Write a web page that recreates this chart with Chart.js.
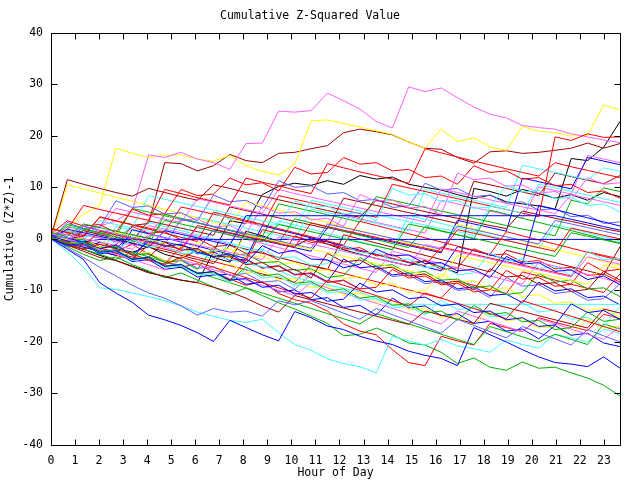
<!DOCTYPE html>
<html><head><meta charset="utf-8">
<script src="https://cdn.jsdelivr.net/npm/chart.js@4"></script>
<style>html,body{margin:0;padding:0;background:#fff}canvas{display:block}</style>
</head><body>
<canvas id="c" width="640" height="480"></canvas>
<script>
const hours = [0,0.68,1.35,2.03,2.7,3.38,4.06,4.73,5.41,6.09,6.76,7.44,8.11,8.79,9.47,10.14,10.82,11.5,12.17,12.85,13.53,14.2,14.88,15.56,16.23,16.91,17.59,18.26,18.94,19.61,20.29,20.97,21.64,22.32,22.99,23.67];
const xTickLabels = [0,1,2,3,4,5,6,7,8,9,10,11,12,13,14,15,16,17,18,19,20,21,22,23];
const yTickLabels = [-40,-30,-20,-10,0,10,20,30,40];

const walkA = [0,1.5,0.8,2.5,3.5,5.5,16.3,15.8,16.8,15.5,14.8,13.5,18.5,18.6,24.8,24.6,24.9,28.3,26.8,25.2,22.8,21.5,29.5,28.6,29.3,27.4,25.6,24.2,23.5,22,21.6,21.3,20.4,19.8,19.2,18.7];
const walkB = [0.5,2.2,4.8,6.5,17.6,16.6,15.8,16.2,16.3,15.5,15.1,16.2,14.2,13.1,12.4,14.5,22.9,23.1,22.4,21.7,21,20.3,18.8,17.6,21.3,18.9,19.6,17.8,17.2,21.8,20.9,20.6,20,20.1,26,25];
const walkB2 = [0,10.5,9.7,8.9,8.1,7.3,6.5,5.7,4.9,4.1,3.3,2.5,7.2,6.4,5.6,4.8,4,3.2,2.4,1.6,0.8,0,-0.8,-1.6,-2.4,2.8,2,1.2,0.4,-0.4,-1.2,-2,-2.8,-3.6,-4.4,-5.2];
const walkC = [0,-0.5,0.8,0.2,-0.5,2.6,3,14.8,14.6,13.2,14.2,16.4,15.2,14.8,16.6,16.8,17.5,18.1,20.6,21.3,20.8,20.2,18.8,17.6,17.4,15.8,14.7,16.9,17.1,16.6,16.8,17.2,17.6,18.6,17.6,18.5];
const walkD = [0,-2,-4,-8.5,-10.5,-12.3,-14.8,-15.7,-16.8,-18.2,-19.9,-15.8,-17.2,-18.6,-19.8,-14.1,-15.3,-16.9,-17.6,-18.9,-19.8,-20.5,-21.8,-22.6,-23.2,-24.6,-17.2,-18.6,-20,-21.5,-22.9,-24,-24.3,-24.8,-22.9,-25.1];
const walkE = [0,-2.5,-5.5,-9.5,-9.8,-10.5,-11.2,-12,-13,-14.2,-15,-15.8,-16.2,-15.6,-18.2,-20.5,-21.6,-23.3,-24.2,-24.8,-26,-18.9,-19.8,-20.6,-19.5,-20.8,-21.3,-22,-19.6,-20.5,-21.2,-18.5,-19.2,-20,-17.5,-18.3];
const walkF = [0,1,-0.5,-1.8,-2.5,-1,-3,-4.2,-5.5,-4.8,-6.5,-7.8,-9,-8.3,-10.6,-11.8,-12.5,-14,-16.5,-17.9,-18.6,-21.5,-24,-24.6,-18.9,-19.8,-20.6,-16.4,-17.2,-18,-15.3,-16.2,-17,-17.8,-14.6,-15.5];
const walkG = [0,-1.5,-3,-4.2,-3.5,-5,-6.2,-7.5,-6.6,-8,-9.3,-10.8,-9.5,-11,-12.4,-13.6,-15,-16.4,-18.8,-18.5,-17.3,-18.6,-20.2,-20.6,-22,-24.2,-23.1,-24.9,-25.5,-23.9,-25.1,-24.9,-26,-27,-28.4,-30.5];
const walkH = [0,-1.2,-2,-0.6,-1.8,-2.6,-1.5,-3,-3.8,-2.2,-3.6,-4.5,1.5,0.6,-0.5,-1.4,0.2,-1,-2.1,-3,-3.8,-4.5,-5.2,-4.2,-5.5,-6.6,9.8,9.2,8.3,9.6,8.8,7.9,8.6,7.5,9,8.2];
const walkI = [0,-1,-2,-3.2,-4.2,-5.3,-6.4,-7.4,-8,-8.5,-2.5,3.5,3,8.6,10.2,10.8,10.4,11.3,10.6,12.3,11.6,12,10.6,10,9.5,8.6,7.8,8.5,7.2,6.8,6.4,5.8,15.6,15.2,17.8,22.8];
const walkU1 = [1,3.5,2.5,2.8,1.2,5.8,4.6,4.9,9.6,8.4,8.7,11.8,10.5,10.9,9.3,13.9,12.6,12.9,15.8,14.5,14.8,13.2,13.5,11.9,12.2,10.6,14.2,12.9,13.2,11.6,11.9,10.3,10.6,9.0,9.3,7.9];
const walkU2 = [0.5,11.5,10.6,9.8,9,8.3,9.8,9,8.2,7.5,10.5,9.8,9,8.3,7.6,6.9,6.2,5.5,4.8,4.2,7.5,6.8,6,5.3,4.6,4,3.3,2.6,2,5.4,4.7,4,3.4,2.7,2,1.4];
const walkU3 = [0,1.8,6.5,5.7,5,4.3,3.6,9.6,8.8,8,7.3,6.6,11.8,11,10.3,9.5,8.8,14.6,13.8,13,12.3,11.6,10.8,17.5,16.7,15.9,15.1,14.4,13.6,12.9,12.2,14.8,14,13.3,12.6,11.9];
const walkU4 = [0.5,-0.3,2.8,2.1,5.9,5.2,4.5,3.8,3.2,7.8,7.1,6.4,5.7,5,9.6,8.8,8.1,7.4,6.7,6,5.3,4.7,4,3.3,9.7,9,8.3,7.6,6.9,6.2,5.6,4.9,8.6,7.9,7.2,6.5];
const walkU5 = [1,0.3,-0.4,3.5,2.8,2.1,8.4,7.7,7,6.3,5.6,4.9,4.2,3.5,2.9,2.2,7.5,6.8,6.1,5.4,4.7,4,3.3,2.7,2,1.4,0.7,6.4,5.7,5,10.6,9.9,9.2,8.5,7.8,7.1];
const walkU6 = [0,3.2,2.0,2.3,7.4,6.1,6.4,4.8,5.1,3.5,8.5,7.2,7.5,5.9,11.3,10.0,10.3,8.7,9.0,7.4,7.7,6.1,6.4,10.8,9.5,9.8,8.2,8.5,6.9,7.2,5.6,5.9,4.3,4.6,3.0,3.3];
const walkU7 = [0,-0.7,1.9,1.2,0.5,5.9,5.2,4.5,3.8,3.1,2.4,1.7,1,0.4,6.8,6.1,5.4,4.7,4,3.3,8.2,7.5,6.8,6.1,5.4,4.7,4,3.3,2.6,1.9,1.3,0.6,7.5,6.8,9.9,9.2];
const walkU8 = [2,1.3,0.6,4.2,3.5,2.8,2.1,1.4,6.2,5.5,4.8,4.1,3.4,2.7,8.4,7.7,7,6.3,5.6,4.9,4.2,10.6,9.9,9.2,8.5,7.8,7.1,6.4,5.7,5,4.3,19.8,19.1,20.4,19.7,19.8];
const walkU9 = [0.5,-0.2,-0.9,-1.6,2.4,1.7,1,0.3,-0.4,4.2,3.5,2.8,2.1,1.4,0.7,0,5.8,5.1,4.4,3.7,3,2.3,1.6,9.6,8.9,8.2,7.5,6.8,6.1,14.3,13.6,12.9,12.2,11.5,13.8,13.1];
const walkU10 = [1,0.3,-0.4,-1.1,-1.8,0.8,0.1,-0.6,-1.3,-2,1.8,1.1,0.4,-0.3,-1,-1.7,-2.4,2.2,1.5,0.8,0.1,-0.6,-1.3,-2,-2.7,3.6,2.9,2.2,1.5,11.8,11.1,10.4,9.7,15.8,15.1,14.4];
const walkU11 = [0,2.4,1.7,1,0.3,-0.4,3.5,2.8,2.1,1.4,0.7,6.2,5.5,4.8,4.1,3.4,2.7,2,7.9,7.2,6.5,5.8,5.1,4.4,3.7,3,11.2,10.5,9.8,9.1,8.4,12.8,12.1,11.4,10.7,12.3];
const walkU12 = [-0.5,1.6,0.9,0.2,-0.5,-1.2,2.6,1.9,1.2,0.5,-0.2,-0.9,3.2,2.5,1.8,1.1,0.4,-0.3,4.6,3.9,3.2,2.5,1.8,1.1,7.5,6.8,6.1,5.4,4.7,4,10.1,9.4,8.7,16.2,15.5,14.8];
const walkX1 = [0,1.6,0.4,0.7,-0.9,2.8,1.5,1.8,0.2,0.5,5.1,3.8,4.1,2.5,2.8,7.4,6.1,6.4,4.8,5.1,3.5,9.8,8.5,8.8,7.2,7.5,5.9,6.2,10.4,9.1,9.4,7.8,8.1,6.5,6.8,5.2];
const walkX2 = [0,-1.1,2.6,1.4,1.7,0.1,0.4,4.9,3.6,3.9,2.3,2.6,1.0,6.3,5.0,5.3,3.7,4.0,2.4,8.6,7.3,7.6,6.0,6.3,4.7,12.8,11.5,11.8,10.2,10.5,8.9,9.2,7.6,11.9,10.6,10.9];
const walkX3 = [1,-0.2,0.1,-1.5,-1.2,2.4,1.1,1.4,-0.2,0.1,-1.5,-1.2,-2.8,-2.5,-4.1,0.6,-0.7,-0.4,-2.0,-1.7,-3.3,-3.0,-4.6,-4.3,-5.9,-5.6,-1.9,-3.2,-2.9,-4.5,-4.2,-5.8,-5.5,-7.1,-6.8,-8.4];
const walkM1 = [0,-0.7,-1.4,1.5,0.8,0.1,-0.6,-1.3,-2,2.6,1.9,1.2,0.5,-0.2,-0.9,-1.6,3.1,2.4,1.7,1,0.3,-0.4,-1.1,-1.8,-2.5,1.8,1.1,0.4,-0.3,-1,-1.7,-2.4,2.1,1.4,0.7,0];
const walkM2 = [0.5,-0.4,-0.6,-1.9,-1.2,-3.1,-0.5,-1.4,-1.0,-2.6,-3.4,-2.9,-4.7,-1.3,-2.8,-2.2,-3.9,-4.1,-5.6,-4.9,-2.0,-3.3,-3.1,-4.8,-4.6,-6.2,-5.9,-7.5,-3.4,-4.9,-4.6,-6.3,-6.0,-7.9,-7.2,-8.9];
const walkM3 = [1.2,0.5,2.9,2.2,1.5,0.8,0.1,3.6,2.9,2.2,1.5,0.8,0.1,-0.6,2.8,2.1,1.4,0.7,0,-0.7,-1.4,-2.1,2.9,2.2,1.5,0.8,0.1,-0.6,-1.3,-2,-2.7,-3.4,1.2,0.5,-0.2,-0.9];
const walkM4 = [0,-1.1,-0.9,-2.5,-2.2,-0.1,-1.6,-1.3,-2.9,-2.6,-4.1,-0.8,-2.3,-2.0,-3.7,-3.5,-5.1,-4.8,-1.2,-2.8,-2.5,-4.2,-3.9,-5.6,-5.2,-7.0,-6.6,-2.7,-4.3,-3.9,-5.7,-5.4,-7.1,-2.4,-4.0,-3.8];
const walkM5 = [1.5,0.8,0.1,-0.6,-1.3,-2,0.9,0.2,-0.5,-1.2,-1.9,-2.6,-3.3,-4,0.4,-0.3,-1,-1.7,-2.4,-3.1,-3.8,-4.5,-5.2,-1.1,-1.8,-2.5,-3.2,-3.9,-4.6,-5.3,-6,-6.7,-7.4,-3.5,-4.2,-4.9];
const walkM6 = [0,-1.2,-0.8,-2.6,-2.3,-4.0,-3.6,-0.6,-2.2,-1.9,-3.5,-3.3,-5.0,-4.6,-6.3,-5.9,-7.6,-2.8,-4.5,-4.1,-5.8,-5.5,-7.2,-6.8,-8.6,-8.2,-9.9,-5.8,-7.4,-7.1,-8.8,-8.5,-10.2,-9.8,-6.3,-8.0];
const walkM7 = [0.5,-0.2,-0.9,-1.6,1.3,0.6,-0.1,-0.8,-1.5,-2.2,-2.9,-3.6,0.8,0.1,-0.6,-1.3,-2,-2.7,-3.4,-4.1,-4.8,-5.5,-6.2,-6.9,-7.6,-3.2,-3.9,-4.6,-5.3,-6,-6.7,-7.4,-8.1,-8.8,-5.1,-5.8];
const walkM8 = [0,1.9,1.2,0.5,-0.2,-0.9,-1.6,1.6,0.9,0.2,-0.5,-1.2,4.5,4.5,4.5,4.5,4.5,4.5,4.5,4.5,4.5,4.5,4.5,4.5,4.5,4.5,4.5,4.5,4.5,4.5,4.5,4.5,3.8,3.1,2.4,1.7];
const walkM9 = [0.8,0.1,-0.6,-0.1,-0.1,-0.1,-0.1,-0.1,-0.1,-0.1,-0.1,-0.1,-0.1,-0.1,-0.1,-0.1,-0.1,-0.1,-0.1,-0.1,-0.1,-0.1,-0.1,-0.1,-0.1,-0.1,-0.1,-0.1,-0.1,-0.1,-0.1,-0.1,-0.1,-0.1,-0.1,-0.1];
const walkM10 = [0,-0.7,-1.4,-2.1,0.9,0.2,-0.5,-1.2,-1.9,-2.6,-3.3,-4,-4.7,-5.4,-6.1,-7.5,-8.2,-8.9,-9.6,-10.3,-11.6,-12.7,-12.7,-12.7,-12.7,-12.7,-12.7,-12.7,-12.7,-12.7,-12.7,-12.7,-12.7,-12.7,-12.7,-12.7];
const walkM11 = [0,-0.7,-1.4,-2.1,-2.8,-3.5,-4.2,-4.9,-1.5,-2.2,-2.9,-3.6,-4.3,1.8,1.1,0.4,-0.3,-1,-1.7,-2.4,-3.1,-3.8,-4.5,-5.2,-1.6,-2.3,-3,-3.7,-4.4,-5.1,-5.8,-6.5,-7.2,-2.5,-3.2,-3.9];
const walkM12 = [0.8,-0.3,-0.1,-1.8,-1.5,-3.2,-2.9,-4.6,-4.2,-5.9,-1.6,-3.3,-2.9,-4.6,-4.4,-6.1,-5.8,-7.5,-7.1,-3.6,-5.3,-5.0,-6.7,-6.3,-8.0,-7.8,-9.5,-9.1,-10.8,-10.4,-6.7,-8.4,-8.0,-9.7,-9.5,-11.2];
const walkM13 = [0,-0.7,2.4,1.7,1,0.3,-0.4,-1.1,3.8,3.1,2.4,1.7,1,0.3,-0.4,-1.1,-1.8,2.9,2.2,1.5,0.8,0.1,-0.6,-1.3,-2,2.5,1.8,1.1,0.4,-0.3,-1,3.6,2.9,2.2,1.5,0.8];
const walkM14 = [0,-1.3,-1.0,-2.7,-2.4,-4.1,-3.7,-5.4,-5.0,-6.7,-6.4,-8.1,-4.0,-5.7,-5.3,-7.0,-6.7,-8.4,-8.0,-9.7,-9.4,-5.9,-7.6,-7.2,-8.9,-8.6,-10.3,-9.9,-6.1,-7.8,-7.5,-9.2,-8.8,-4.6,-6.3,-5.9];
const walkM15 = [0,-1.2,-0.9,-2.6,-2.2,-3.9,0.2,-1.5,-1.2,-2.9,-2.5,-4.2,-3.9,-5.6,-5.2,-6.9,-6.6,-8.3,-3.9,-5.6,-5.3,-7.0,-6.6,-8.3,-8.0,-9.7,-9.3,-11.0,-10.7,-12.4,-8.4,-10.1,-9.7,-11.4,-11.1,-12.8];
const walkM16 = [1,-0.2,0.1,-1.6,-1.3,-3.0,-2.6,-4.3,-4.0,-0.6,-2.3,-1.9,-3.6,-3.3,-5.0,-4.6,-6.3,-6.0,-7.7,-7.3,-9.0,-8.7,-10.4,-10.0,-6.8,-8.5,-8.1,-9.8,-9.5,-11.2,-10.8,-12.5,-12.2,-13.9,-13.5,-15.2];
const walkM17 = [2,1.2,0.4,4.3,3.5,2.7,1.9,1.1,0.3,-0.5,5.2,4.4,3.6,2.8,2,1.2,0.4,-0.4,-1.2,3.4,2.6,1.8,1,0.2,-0.6,-1.4,-2.2,-3,1.4,0.6,-0.2,-1,-1.8,-2.6,-3.4,-4.2];
const walkM18 = [0,2.8,2,1.2,0.4,-0.4,-1.2,4.8,4,3.2,2.4,1.6,0.8,0,-0.8,3.9,3.1,2.3,1.5,0.7,-0.1,-0.9,-1.7,2.4,1.6,0.8,0,5.6,4.8,4,3.2,2.4,1.6,0.8,0,-0.8];
const walkM19 = [0,-0.8,-1.6,-2.4,-3.2,1.8,1,0.2,-0.6,-1.4,-2.2,-3,-3.8,2.6,1.8,1,0.2,-0.6,-1.4,-2.2,-3,-3.8,-4.6,-5.4,-6.2,-1.5,-2.3,-3.1,-3.9,-4.7,6.5,5.7,4.9,4.1,3.3,2.5];
const walkM20 = [0,-0.8,1.6,0.8,0,-0.8,-1.6,-2.4,-3.2,-4,-4.8,-1.2,-2,-2.8,-3.6,-4.4,-5.2,-6,0.8,0,-0.8,-1.6,-2.4,-3.2,-4,-4.8,-5.6,-6.4,-2.2,-3,-3.8,-4.6,-5.4,-6.2,-7,-1.5];
const walkM21 = [0,2.5,1.7,0.9,0.1,-0.7,3.2,2.4,1.6,0.8,0,-0.8,-1.6,-2.4,3.5,2.7,1.9,1.1,0.3,-0.5,-1.3,-2.1,4.6,3.8,3,2.2,1.4,0.6,-0.2,-1,-1.8,2.8,2,1.2,0.4,-0.4];
const walkM22 = [0,-0.8,-1.6,1.5,0.7,-0.1,-0.9,-1.7,-2.5,2.3,1.5,0.7,-0.1,-0.9,-1.7,-2.5,-3.3,-4.1,-4.9,-5.7,-6.5,-2.4,-3.2,-4,-4.8,-5.6,-6.4,-7.2,-8,-8.8,-4.5,-5.3,-6.1,-6.9,-7.7,-8.5];
const walkM23 = [0,-0.8,-1.6,-2.4,-3.2,-4,-1.2,-2,-2.8,-3.6,-4.4,-5.2,-6,-6.8,-7.6,-8.4,-5.1,-5.9,-6.7,-7.5,-8.3,-9.1,-9.9,-10.7,-11.5,-8.2,-9,-9.8,-10.6,-6.4,-7.2,-8,-8.8,-9.6,-10.4,-6.8];
const walkM24 = [1,-0.2,0.1,-1.6,-1.3,-3.0,-2.7,-4.4,-4.0,-5.7,-5.4,-7.1,-6.7,-8.4,-8.1,-9.8,-6.8,-8.5,-8.1,-9.8,-5.6,-7.3,-7.0,-8.7,-8.3,-10.0,-9.7,-11.4,-7.5,-9.2,-8.9,-10.6,-10.2,-11.9,-11.6,-8.7];
const walkL1 = [0,-1.2,-0.9,-2.6,-2.3,-4.0,-3.6,-5.3,-5.0,-6.7,-6.3,-8.0,-7.7,-9.4,-9.0,-10.7,-10.4,-12.1,-11.7,-8.6,-10.3,-9.9,-11.6,-11.3,-13.0,-12.6,-14.3,-14.0,-15.7,-15.3,-17.0,-16.7,-12.6,-14.3,-13.9,-15.6];
const walkL2 = [0.3,-0.9,-0.6,-2.4,-2.1,-3.9,-3.5,-5.3,-4.9,-6.7,-6.4,-8.2,-5.4,-7.2,-6.8,-8.6,-8.3,-10.1,-9.7,-11.5,-11.1,-12.9,-12.6,-14.4,-14.0,-15.8,-12.9,-14.7,-14.3,-16.1,-15.8,-17.6,-17.2,-14.2,-16.0,-15.6];
const walkL3 = [0,-1.8,-3.6,-5.5,-7.2,-9,-10.5,-11.5,-13,-14.8,-13.5,-14.2,-14,-15,-12,-12.8,-12,-13.2,-14.4,-15.6,-13.5,-14.7,-15.9,-17.1,-18.3,-15.6,-16.8,-18,-19.2,-17,-18.2,-19.4,-20.6,-17.6,-18.8,-20];
const walkL4 = [0,-1.2,-2.4,-3.6,-4.2,-5.4,-6.6,-7.2,-8,-8.5,-9.4,-10.3,-11.5,-13,-14.2,-11,-11.8,-12.6,-13.4,-14.2,-15,-15.8,-16.6,-14,-14.8,-15.6,-16.4,-12.5,-13.3,-14.1,-14.9,-15.7,-16.5,-17.3,-13.6,-14.4];
const walkL5 = [0,-1,-2,-1,-2,-3,-4,-5,-3.5,-4.5,-5.5,-6.5,-7.5,-8.5,-9.5,-10.5,-11.5,-8,-9,-10,-11,-12,-13,-10.5,-11.5,-12.5,-13.5,-14.5,-15.5,-12,-13,-14,-15,-16,-17,-18];
const walkL6 = [0,-1.3,-0.9,-2.7,-2.4,-4.2,-3.8,-5.6,-5.2,-7.0,-6.7,-8.5,-5.8,-7.6,-7.2,-9.0,-8.7,-10.5,-10.1,-11.9,-11.6,-13.4,-13.0,-14.8,-11.9,-13.7,-13.3,-15.1,-14.8,-12.4,-14.2,-13.8,-15.6,-15.2,-17.0,-13.1];
const walkL7 = [1,0,-1,-2,-3,-4,-5,-6,-4,-5,-6,-7,-8,-9,-10,-11,-8.5,-9.5,-10.5,-11.5,-12.5,-13.5,-14.5,-15.5,-16.5,-14,-15,-16,-17,-18,-15.5,-16.5,-17.5,-18.5,-19.5,-17];
const walkL8 = [0,-1.4,-1.0,-2.9,-2.5,-4.4,-4.0,-5.9,-5.5,-7.4,-7.0,-6.9,-8.8,-8.4,-10.3,-9.9,-11.8,-11.4,-13.3,-12.9,-14.8,-11.5,-13.4,-13.0,-14.9,-14.5,-16.4,-16.0,-17.9,-17.5,-19.4,-16.8,-18.7,-18.3,-20.2,-20.9];
const walkL9 = [0,-1,-2,-3,-4,-2.5,-3.5,-4.5,-5.5,-6.5,-7.5,-8.5,-9.5,-10.5,-11.5,-12.5,-13.5,-14.5,-15.5,-16.5,-14.5,-15.5,-16.5,-17.5,-18.5,-19.5,-20.5,-17,-18,-19,-20,-18.5,-19.5,-20.5,-16.5,-17.5];
const walkL10 = [0,-1.2,-0.8,-2.6,-2.3,-4.1,-3.7,-5.5,-5.1,-6.9,-6.6,-4.8,-6.6,-6.2,-8.0,-7.7,-9.5,-9.1,-10.9,-10.5,-12.3,-12.0,-13.8,-13.4,-15.2,-14.9,-16.7,-14.1,-15.9,-15.5,-17.3,-17.0,-18.8,-15.5,-17.3,-16.9];

const C = {red:'#ff0000', green:'#00b000', blue:'#0000ff', magenta:'#ff60ff', cyan:'#40ffff', darkred:'#a00000', yellow:'#ffff00', black:'#000000', slate:'#6060ff'};
const seriesList = [
  [walkL1,'blue'],[walkL2,'green'],[walkL3,'slate'],[walkL4,'darkred'],[walkL5,'red'],[walkL6,'cyan'],[walkL7,'magenta'],[walkL8,'blue'],[walkL9,'green'],[walkL10,'yellow'],
  [walkM1,'red'],[walkM2,'blue'],[walkM3,'green'],[walkM4,'cyan'],[walkM5,'magenta'],[walkM6,'darkred'],[walkM7,'yellow'],[walkM8,'blue'],[walkM9,'blue'],[walkM10,'cyan'],
  [walkM11,'red'],[walkM12,'green'],[walkM13,'slate'],[walkM14,'red'],[walkM15,'blue'],[walkM16,'yellow'],[walkM17,'red'],[walkM18,'green'],[walkM19,'blue'],[walkM20,'darkred'],
  [walkM21,'cyan'],[walkM22,'magenta'],[walkM23,'red'],[walkM24,'slate'],
  [walkX1,'cyan'],[walkX2,'magenta'],[walkX3,'red'],
  [walkU1,'red'],[walkU2,'darkred'],[walkU3,'red'],[walkU4,'magenta'],[walkU5,'cyan'],[walkU6,'slate'],[walkU7,'green'],[walkU8,'red'],[walkU9,'cyan'],[walkU10,'blue'],[walkU11,'darkred'],[walkU12,'magenta'],
  [walkA,'magenta'],[walkB,'yellow'],[walkB2,'yellow'],[walkC,'darkred'],[walkD,'blue'],[walkE,'cyan'],[walkF,'red'],[walkG,'green'],[walkH,'black'],[walkI,'black']
];

const datasets = seriesList.map(([vals, col]) => ({
  data: vals.map((v, i) => ({x: hours[i], y: v})),
  borderColor: C[col], borderWidth: 1, pointRadius: 0, fill: false, tension: 0
}));

const FONT = {family: '"DejaVu Sans Mono", monospace', size: 11.5};

const framePlugin = {
  id: 'frame',
  afterDatasetsDraw(chart) {
    const {ctx, chartArea: a, scales: {x, y}} = chart;
    const L = Math.round(a.left) + 0.5, R = Math.round(a.right) + 0.5;
    const T = Math.round(a.top) + 0.5, B = Math.round(a.bottom) + 0.5;
    ctx.save();
    ctx.strokeStyle = '#000'; ctx.lineWidth = 1;
    ctx.beginPath();
    ctx.rect(L, T, R - L, B - T);
    xTickLabels.forEach(v => {
      const px = Math.round(x.getPixelForValue(v)) + 0.5;
      ctx.moveTo(px, B); ctx.lineTo(px, B - 6);
      ctx.moveTo(px, T); ctx.lineTo(px, T + 6);
    });
    yTickLabels.forEach(v => {
      const py = Math.round(y.getPixelForValue(v)) + 0.5;
      ctx.moveTo(L, py); ctx.lineTo(L + 6, py);
      ctx.moveTo(R, py); ctx.lineTo(R - 6, py);
    });
    ctx.stroke();
    ctx.restore();
  }
};

new Chart(document.getElementById('c'), {
  type: 'line',
  data: {datasets},
  options: {
    responsive: false, animation: false, events: [],
    layout: {padding: {left: 0, right: 20, top: 0, bottom: 0}},
    plugins: {
      legend: {display: false}, tooltip: {enabled: false},
      title: {display: true, text: 'Cumulative Z-Squared Value', color: '#000', font: {...FONT, weight: 'normal'}, padding: {top: 9, bottom: 10}}
    },
    scales: {
      x: {
        type: 'linear', min: 0, max: 23.67,
        grid: {display: false, drawTicks: false},
        border: {display: false},
        ticks: {stepSize: 1, autoSkip: false, maxRotation: 0, color: '#000', font: FONT, padding: 9},
        afterBuildTicks: s => { s.ticks = xTickLabels.map(v => ({value: v})); },
        afterFit: s => { s.height = 35; },
        title: {display: true, text: 'Hour of Day', color: '#000', font: FONT, padding: {top: 0, bottom: 0.5}}
      },
      y: {
        type: 'linear', min: -40, max: 40,
        grid: {display: false, drawTicks: false},
        border: {display: false},
        ticks: {stepSize: 10, color: '#000', font: FONT, padding: 8},
        afterBuildTicks: s => { s.ticks = yTickLabels.map(v => ({value: v})); },
        afterFit: s => { s.width = 51; },
        title: {display: true, text: 'Cumulative (Z*Z)-1', color: '#000', font: FONT, padding: {top: 3.5, bottom: 0}}
      }
    }
  },
  plugins: [framePlugin]
});
</script>
</body></html>
